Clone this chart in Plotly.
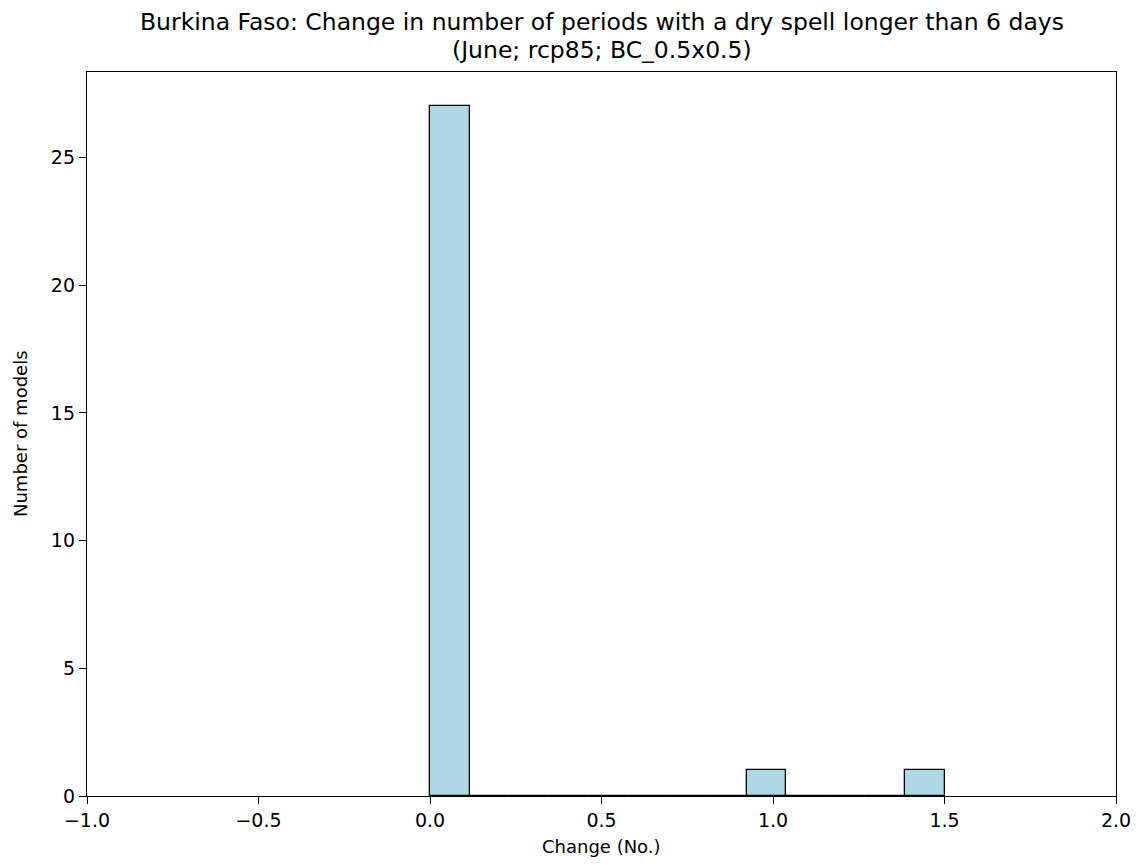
import numpy as np
import plotly.graph_objects as go

# Histogram data (13 bins spanning the data range 0.0 .. 1.5)
bin_start = 0.0
bin_end = 1.5
n_bins = 13
counts = [27, 0, 0, 0, 0, 0, 0, 0, 1, 0, 0, 0, 1]

x_ticks = [-1.0, -0.5, 0.0, 0.5, 1.0, 1.5, 2.0]
x_tick_labels = ["\u22121.0", "\u22120.5", "0.0", "0.5", "1.0", "1.5", "2.0"]
y_ticks = [0, 5, 10, 15, 20, 25]

title_line1 = "Burkina Faso: Change in number of periods with a dry spell longer than 6 days"
title_line2 = "(June; rcp85; BC_0.5x0.5)"
x_label = "Change (No.)"
y_label = "Number of models"

edges = np.linspace(bin_start, bin_end, n_bins + 1)
width = edges[1] - edges[0]
centers = (edges[:-1] + edges[1:]) / 2

fig = go.Figure()
fig.add_trace(go.Bar(
    x=centers, y=counts, width=width,
    marker=dict(color="#add8e6", line=dict(color="black", width=1.3)),
    showlegend=False,
))
# zero-height bins drawn as edge line along the baseline
fig.add_trace(go.Scatter(
    x=[bin_start, bin_end], y=[0, 0], mode="lines",
    line=dict(color="black", width=1.2), showlegend=False, hoverinfo="skip",
))

font = "DejaVu Sans, sans-serif"
fig.update_layout(
    width=1124, height=849,
    paper_bgcolor="white", plot_bgcolor="white",
    margin=dict(l=79, r=16, t=64, b=61),
    bargap=0,
    font=dict(family=font, size=18, color="black"),
    annotations=[
        dict(text=title_line1, xref="paper", yref="paper", x=0.5, y=1,
             xanchor="center", yanchor="middle", yshift=50, showarrow=False,
             borderpad=0,
             font=dict(family=font, size=23.5, color="black")),
        dict(text=title_line2, xref="paper", yref="paper", x=0.5, y=1,
             xanchor="center", yanchor="middle", yshift=22.5, showarrow=False,
             borderpad=0,
             font=dict(family=font, size=23.5, color="black")),
        dict(text=x_label, xref="paper", yref="paper", x=0.5, y=0,
             xanchor="center", yanchor="middle", yshift=-50, showarrow=False,
             font=dict(family=font, size=18, color="black")),
        dict(text=y_label, xref="paper", yref="paper", x=0, y=0.5,
             xanchor="center", yanchor="middle", xshift=-67, textangle=-90,
             showarrow=False, font=dict(family=font, size=18, color="black")),
    ],
)
fig.update_xaxes(
    range=[-1.0, 2.0], tickvals=x_ticks, ticktext=x_tick_labels,
    ticks="outside", ticklen=7, tickwidth=1.2, tickcolor="black",
    showline=True, linecolor="black", linewidth=1.3, mirror=True,
    showgrid=False, zeroline=False, automargin=False,
    tickfont=dict(size=19),
)
fig.update_yaxes(
    range=[0, 28.35], tickvals=y_ticks,
    ticks="outside", ticklen=7, tickwidth=1.2, tickcolor="black",
    showline=True, linecolor="black", linewidth=1.3, mirror=True,
    showgrid=False, zeroline=False, automargin=False,
    tickfont=dict(size=19),
)

fig.write_html("out.html")
